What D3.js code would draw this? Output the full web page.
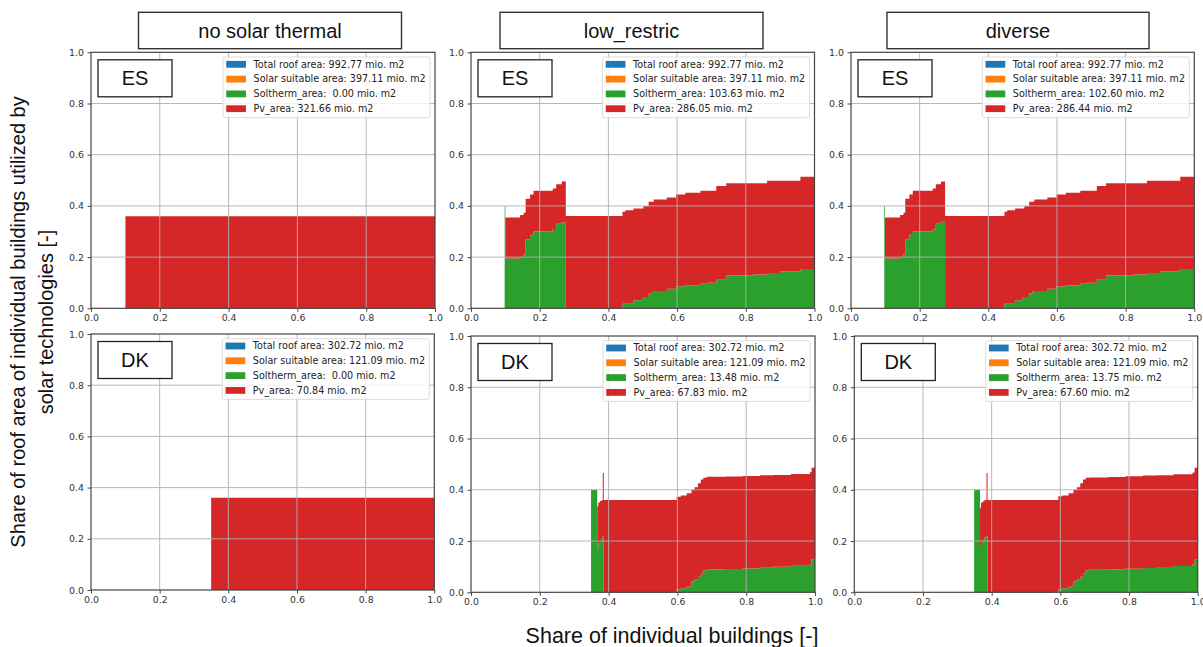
<!DOCTYPE html>
<html>
<head>
<meta charset="utf-8">
<script src="https://cdn.jsdelivr.net/npm/d3@7"></script>
<style>
  body { margin: 0; background: #fff; }
  .tick text { font-family: "DejaVu Sans", sans-serif; font-size: 9.4px; fill: #333; }
  .legend text { font-family: "DejaVu Sans", sans-serif; font-size: 9.6px; fill: #222; white-space: pre; }
  .big { font-family: "Liberation Sans", Arial, sans-serif; fill: #111; }
</style>
</head>
<body>
<div id="chart"></div>
<script>
// scenarios (columns) and regions (rows)
const scenarios = ["no solar thermal", "low_restric", "diverse"];
const regions = ["ES", "DK"];
const tickValues = [0, 0.2, 0.4, 0.6, 0.8, 1.0];

// legend values, mio. m2
const legendNames = ["Total roof area", "Solar suitable area", "Soltherm_area", "Pv_area"];
const legendColors = ["#1f77b4", "#ff7f0e", "#2ca02c", "#d62728"];
const totalRoofArea = [992.77, 302.72];
const suitableArea = [397.11, 121.09];
const solthermArea = [[0.00, 103.63, 102.60], [0.00, 13.48, 13.75]];
const pvArea = [[321.66, 286.05, 286.44], [70.84, 67.83, 67.60]];

// step data: share of buildings (x) and share of roof used (y)
const esNoneShare = [0.10, 1.00];
const esNoneSoltherm = [0, 0];
const esNonePv = [0.36, 0.36];

const esLowShare = [0.098, 0.100, 0.143, 0.153, 0.159, 0.172, 0.182, 0.238, 0.248, 0.264, 0.276, 0.441, 0.449, 0.473, 0.498, 0.502, 0.517, 0.527, 0.532, 0.570, 0.597, 0.624, 0.668, 0.687, 0.714, 0.743, 0.823, 0.862, 0.901, 0.959, 1.000];
const esLowSoltherm = [0.400, 0.195, 0.200, 0.210, 0.270, 0.285, 0.300, 0.310, 0.330, 0.335, 0.000, 0.018, 0.018, 0.031, 0.044, 0.044, 0.057, 0.068, 0.068, 0.076, 0.086, 0.090, 0.096, 0.100, 0.112, 0.128, 0.132, 0.138, 0.145, 0.154, 0.154];
const esLowPv = [0.000, 0.160, 0.164, 0.163, 0.158, 0.160, 0.159, 0.158, 0.155, 0.160, 0.361, 0.359, 0.365, 0.359, 0.346, 0.355, 0.359, 0.348, 0.357, 0.357, 0.359, 0.361, 0.363, 0.359, 0.366, 0.360, 0.356, 0.360, 0.353, 0.360, 0.360];

const esDivShare = [0.097, 0.099, 0.143, 0.153, 0.158, 0.170, 0.180, 0.238, 0.247, 0.262, 0.274, 0.447, 0.455, 0.478, 0.500, 0.505, 0.519, 0.529, 0.534, 0.572, 0.599, 0.626, 0.668, 0.688, 0.716, 0.743, 0.823, 0.862, 0.901, 0.959, 1.000];
const esDivSoltherm = [0.400, 0.195, 0.200, 0.210, 0.270, 0.290, 0.300, 0.308, 0.330, 0.338, 0.000, 0.018, 0.018, 0.031, 0.044, 0.044, 0.059, 0.068, 0.068, 0.076, 0.085, 0.089, 0.096, 0.100, 0.112, 0.128, 0.132, 0.138, 0.145, 0.154, 0.154];
const esDivPv = [0.000, 0.160, 0.164, 0.163, 0.158, 0.155, 0.159, 0.160, 0.155, 0.157, 0.361, 0.359, 0.365, 0.359, 0.346, 0.355, 0.357, 0.348, 0.357, 0.357, 0.360, 0.362, 0.363, 0.359, 0.366, 0.360, 0.356, 0.360, 0.353, 0.360, 0.360];

const dkNoneShare = [0.35, 1.00];
const dkNoneSoltherm = [0, 0];
const dkNonePv = [0.36, 0.36];

const dkLowShare = [0.349, 0.367, 0.370, 0.375, 0.380, 0.383, 0.386, 0.598, 0.610, 0.627, 0.641, 0.650, 0.660, 0.668, 0.675, 0.685, 0.740, 0.790, 0.840, 0.879, 0.930, 0.985, 0.990, 1.000];
const dkLowSoltherm = [0.400, 0.170, 0.190, 0.200, 0.210, 0.220, 0.000, 0.012, 0.016, 0.022, 0.042, 0.050, 0.061, 0.072, 0.085, 0.090, 0.091, 0.093, 0.096, 0.100, 0.104, 0.109, 0.129, 0.129];
const dkLowPv = [0.000, 0.165, 0.160, 0.156, 0.150, 0.245, 0.360, 0.361, 0.362, 0.364, 0.358, 0.360, 0.364, 0.368, 0.362, 0.361, 0.361, 0.361, 0.361, 0.358, 0.358, 0.359, 0.357, 0.357];

const dkDivShare = [0.349, 0.366, 0.369, 0.374, 0.379, 0.385, 0.388, 0.594, 0.606, 0.624, 0.638, 0.648, 0.658, 0.666, 0.674, 0.684, 0.740, 0.790, 0.840, 0.879, 0.930, 0.985, 0.991, 1.000];
const dkDivSoltherm = [0.400, 0.180, 0.195, 0.205, 0.215, 0.220, 0.000, 0.012, 0.016, 0.022, 0.042, 0.050, 0.061, 0.072, 0.085, 0.088, 0.090, 0.092, 0.095, 0.099, 0.103, 0.108, 0.128, 0.128];
const dkDivPv = [0.000, 0.150, 0.155, 0.150, 0.145, 0.245, 0.360, 0.363, 0.362, 0.364, 0.358, 0.360, 0.364, 0.368, 0.362, 0.360, 0.360, 0.361, 0.361, 0.358, 0.358, 0.359, 0.358, 0.358];

const series = [
  [[esNoneShare, esNoneSoltherm, esNonePv], [esLowShare, esLowSoltherm, esLowPv], [esDivShare, esDivSoltherm, esDivPv]],
  [[dkNoneShare, dkNoneSoltherm, dkNonePv], [dkLowShare, dkLowSoltherm, dkLowPv], [dkDivShare, dkDivSoltherm, dkDivPv]]
];

// panel positions in the figure
let boxes = [
  [{x: 91, y: 52.3, w: 344, h: 256}, {x: 471, y: 52.3, w: 343.5, h: 256}, {x: 851, y: 52.3, w: 343.3, h: 256}],
  [{x: 91, y: 334, w: 343.3, h: 256}, {x: 471, y: 336, w: 344, h: 256.3}, {x: 854.3, y: 336, w: 343.4, h: 256.3}]
];
let titleBoxes = [{x: 138.5, w: 263}, {x: 500, w: 263}, {x: 887, w: 262}];

let width = 1203, height = 647;

let svg = d3.select("#chart")
    .append("svg")
    .attr("width", width)
    .attr("height", height);

svg.append("rect").attr("width", width).attr("height", height).attr("fill", "#fff");

let fmt = d3.format("5.2f");

function drawPanel(r, c) {
    let box = boxes[r][c];
    let [share, soltherm, pv] = series[r][c];

    let g = svg.append("g")
        .attr("transform", "translate(" + box.x + "," + box.y + ")");

    let xScale = d3.scaleLinear().domain([0, 1]).range([0, box.w]);
    let yScale = d3.scaleLinear().domain([0, 1]).range([box.h, 0]);

    let rows = share.map(function (s, i) {
        return {share: s, soltherm: soltherm[i], pv: pv[i]};
    });
    let stacked = d3.stack().keys(["soltherm", "pv"])(rows);

    let area = d3.area()
        .curve(d3.curveStepAfter)
        .x(function (d) { return xScale(d.data.share); })
        .y0(function (d) { return yScale(d[0]); })
        .y1(function (d) { return yScale(d[1]); });

    g.selectAll("path.layer")
        .data(stacked)
        .enter()
        .append("path")
        .attr("class", "layer")
        .attr("fill", function (d, i) { return i === 0 ? legendColors[2] : legendColors[3]; })
        .attr("d", area);

    // grid (drawn above the fills, like matplotlib)
    g.selectAll("line.gx")
        .data(tickValues.slice(1, -1))
        .enter().append("line")
        .attr("x1", xScale).attr("x2", xScale)
        .attr("y1", 0).attr("y2", box.h)
        .attr("stroke", "#b0b0b0").attr("stroke-width", 0.9);
    g.selectAll("line.gy")
        .data(tickValues.slice(1, -1))
        .enter().append("line")
        .attr("y1", yScale).attr("y2", yScale)
        .attr("x1", 0).attr("x2", box.w)
        .attr("stroke", "#b0b0b0").attr("stroke-width", 0.9);

    // axes
    let xAxisCall = d3.axisBottom(xScale)
        .tickValues(tickValues)
        .tickFormat(d3.format(".1f"))
        .tickSize(3.5)
        .tickPadding(3);
    let xa = g.append("g")
        .attr("transform", "translate(0," + box.h + ")")
        .call(xAxisCall);
    xa.select(".domain").remove();

    let yAxisCall = d3.axisLeft(yScale)
        .tickValues(tickValues)
        .tickFormat(d3.format(".1f"))
        .tickSize(3.5)
        .tickPadding(3.5);
    let ya = g.append("g").call(yAxisCall);
    ya.select(".domain").remove();
    g.selectAll(".tick line").attr("stroke", "#444");

    // legend
    let leg = g.append("g").attr("class", "legend");
    let labels = [
        legendNames[0] + ": " + fmt(totalRoofArea[r]) + " mio. m2",
        legendNames[1] + ": " + fmt(suitableArea[r]) + " mio. m2",
        legendNames[2] + ": " + fmt(solthermArea[r][c]) + " mio. m2",
        legendNames[3] + ": " + fmt(pvArea[r][c]) + " mio. m2"
    ];
    let legBg = leg.append("rect");
    let texts = leg.selectAll("text")
        .data(labels)
        .enter().append("text")
        .attr("x", 30.6)
        .attr("y", function (d, i) { return 7.3 + i * 14.8; })
        .attr("dy", "0.35em")
        .text(function (d) { return d; });
    let maxLen = d3.max(texts.nodes(), function (n) { return n.getComputedTextLength(); });
    let lw = 30.6 + maxLen + 4.3;
    leg.selectAll("rect.patch")
        .data(labels)
        .enter().append("rect")
        .attr("class", "patch")
        .attr("x", 3.3)
        .attr("y", function (d, i) { return 7.3 + i * 14.8 - 3.4; })
        .attr("width", 19.7)
        .attr("height", 6.8)
        .attr("fill", function (d, i) { return legendColors[i]; });
    legBg.attr("width", lw).attr("height", 60.7)
        .attr("rx", 2).attr("ry", 2)
        .attr("fill", "#fff").attr("fill-opacity", 0.8)
        .attr("stroke", "#d8d8d8").attr("stroke-width", 0.9);
    leg.attr("transform", "translate(" + (box.w - 5 - lw) + ",4.7)");

    // region label box
    g.append("rect")
        .attr("x", 7).attr("y", 7.5)
        .attr("width", 74).attr("height", 37)
        .attr("fill", "#fff").attr("stroke", "#222").attr("stroke-width", 1.3);
    g.append("text")
        .attr("class", "big")
        .attr("x", 44).attr("y", 26)
        .attr("dy", "0.35em")
        .attr("text-anchor", "middle")
        .attr("font-size", 20)
        .text(regions[r]);

    // spines
    g.append("rect")
        .attr("width", box.w).attr("height", box.h)
        .attr("fill", "none")
        .attr("stroke", "#444").attr("stroke-width", 1.2);
}

for (let r = 0; r < regions.length; r++) {
    for (let c = 0; c < scenarios.length; c++) {
        drawPanel(r, c);
    }
}

// column titles
titleBoxes.forEach(function (t, i) {
    svg.append("rect")
        .attr("x", t.x).attr("y", 12.3)
        .attr("width", t.w).attr("height", 36.4)
        .attr("fill", "#fff").attr("stroke", "#333").attr("stroke-width", 1.4);
    svg.append("text")
        .attr("class", "big")
        .attr("x", t.x + t.w / 2).attr("y", 30.5)
        .attr("dy", "0.35em")
        .attr("text-anchor", "middle")
        .attr("font-size", 20)
        .text(scenarios[i]);
});

// axis titles
svg.append("text")
    .attr("class", "big")
    .attr("transform", "translate(24.5,322) rotate(-90)")
    .attr("text-anchor", "middle")
    .attr("font-size", 20)
    .text("Share of roof area of individual buildings utilized by");
svg.append("text")
    .attr("class", "big")
    .attr("transform", "translate(52.5,322) rotate(-90)")
    .attr("text-anchor", "middle")
    .attr("font-size", 20)
    .text("solar technologies [-]");

svg.append("text")
    .attr("class", "big")
    .attr("x", 672).attr("y", 643)
    .attr("text-anchor", "middle")
    .attr("font-size", 21.5)
    .text("Share of individual buildings [-]");
</script>
</body>
</html>
